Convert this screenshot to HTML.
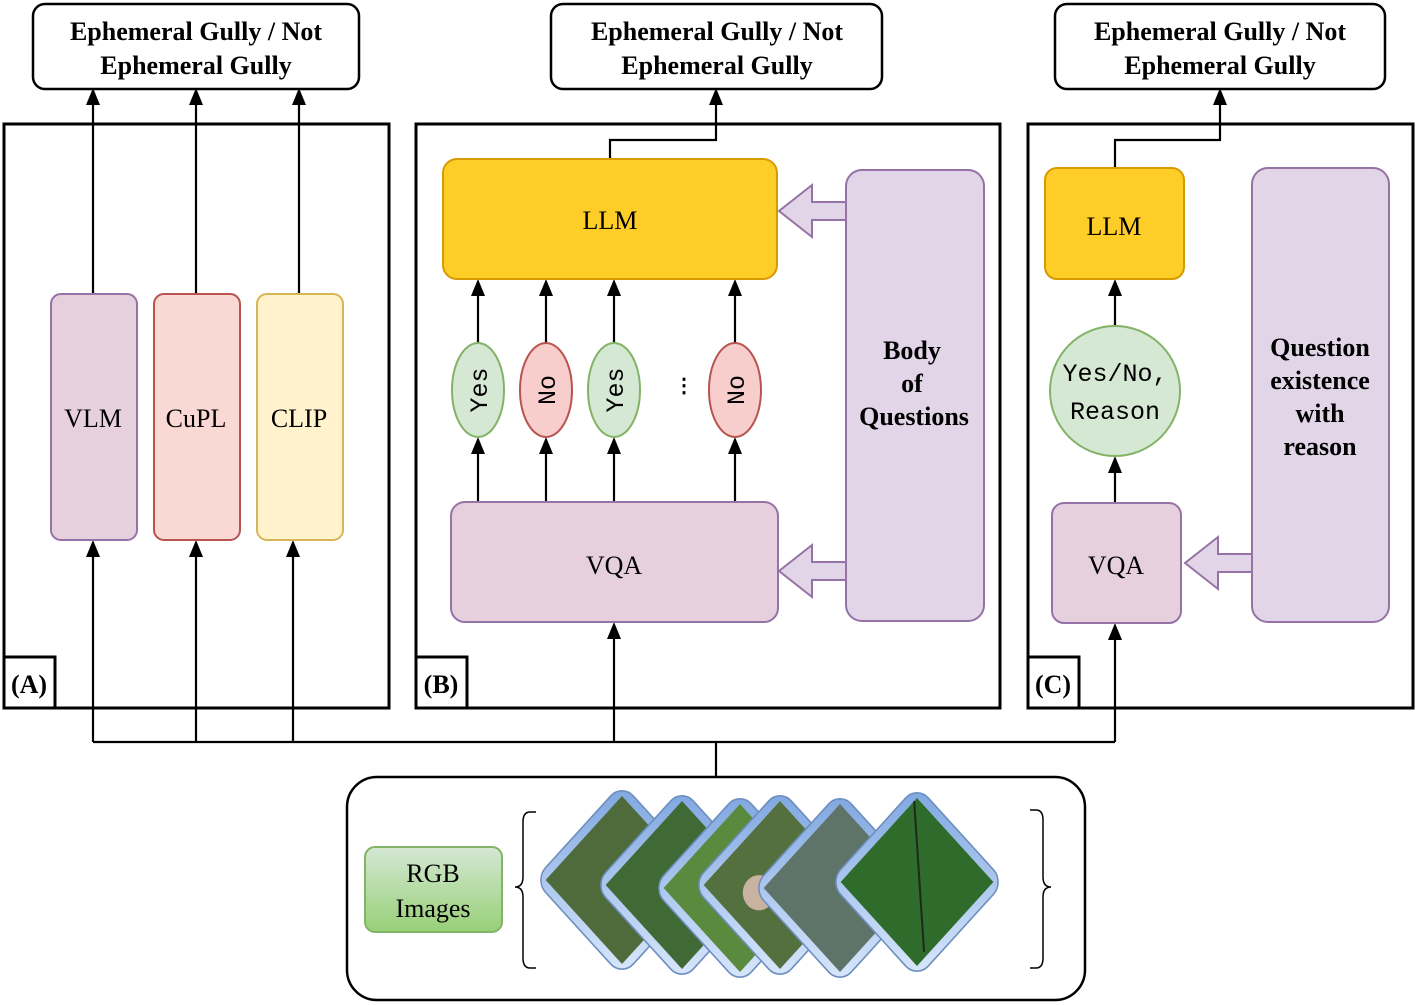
<!DOCTYPE html>
<html><head><meta charset="utf-8"><style>body{margin:0;background:#fff}svg{display:block}</style></head><body>
<svg width="1420" height="1006" viewBox="0 0 1420 1006" xmlns="http://www.w3.org/2000/svg" font-family="Liberation Serif, serif">
<defs>
<linearGradient id="g" x1="0" y1="0" x2="0" y2="1"><stop offset="0" stop-color="#d5e8d4"/><stop offset="1" stop-color="#97d077"/></linearGradient>
<linearGradient id="fr" x1="0" y1="0" x2="1" y2="1"><stop offset="0" stop-color="#7ea6e0"/><stop offset="1" stop-color="#dae8fc"/></linearGradient>
</defs>
<g fill="none" stroke="#000" stroke-width="2.2">
<rect x="33" y="4" width="326" height="85" rx="12" fill="#fff" stroke-width="2.5"/>
<rect x="551" y="4" width="331" height="85" rx="12" fill="#fff" stroke-width="2.5"/>
<rect x="1055" y="4" width="330" height="85" rx="12" fill="#fff" stroke-width="2.5"/>
<rect x="4" y="124" width="385" height="584" stroke-width="3"/>
<rect x="4" y="657" width="51" height="51" stroke-width="3"/>
<rect x="416" y="124" width="584" height="584" stroke-width="3"/>
<rect x="416" y="657" width="51" height="51" stroke-width="3"/>
<rect x="1028" y="124" width="385" height="584" stroke-width="3"/>
<rect x="1028" y="657" width="51" height="51" stroke-width="3"/>
<path d="M93 294V100 M196 294V100 M299 294V100 M93 742V552 M196 742V552 M293 742V552 M93 742H1115 M716 742V776 M614 742V634 M1115 742V635 M610 159V140H716V100 M1115 168V140H1220V100"/>
<path d="M478 343V290 M546 343V290 M614 343V290 M735 343V290 M478 502V448 M546 502V448 M614 502V448 M735 502V448 M1115 326V291 M1115 503V468"/>
<rect x="347" y="777" width="738" height="223" rx="30" fill="#fff" stroke-width="2.5"/>
<path d="M536 812h-6q-7 0-7 10v55q0 10-8 10q8 0 8 10v61q0 10 7 10h6" stroke-width="1.5"/>
<path d="M1030 810h6q7 0 7 10v57q0 10 8 10q-8 0 -8 10v61q0 10-7 10h-6" stroke-width="1.5"/>
</g>
<g fill="#000">
<path d="M93 88l-7 17h14z M196 88l-7 17h14z M299 88l-7 17h14z M716 88l-7 17h14z M1220 88l-7 17h14z"/>
<path d="M93 540l-7 17h14z M196 540l-7 17h14z M293 540l-7 17h14z M614 622l-7 17h14z M1115 623l-7 17h14z"/>
<path d="M478 279l-7 17h14z M546 279l-7 17h14z M614 279l-7 17h14z M735 279l-7 17h14z"/>
<path d="M478 437l-7 17h14z M546 437l-7 17h14z M614 437l-7 17h14z M735 437l-7 17h14z M1115 279l-7 17h14z M1115 456l-7 17h14z"/>
</g>
<rect x="51" y="294" width="86" height="246" rx="10" fill="#e6d0de" stroke="#9673a6" stroke-width="2"/>
<rect x="154" y="294" width="86" height="246" rx="10" fill="#fad9d5" stroke="#b85450" stroke-width="2"/>
<rect x="257" y="294" width="86" height="246" rx="10" fill="#fff2cc" stroke="#d6b656" stroke-width="2"/>
<rect x="443" y="159" width="334" height="120" rx="14" fill="#ffcd28" stroke="#d79b00" stroke-width="2"/>
<rect x="451" y="502" width="327" height="120" rx="14" fill="#e6d0de" stroke="#9673a6" stroke-width="2"/>
<rect x="846" y="170" width="138" height="451" rx="16" fill="#e1d5e7" stroke="#9673a6" stroke-width="2"/>
<path d="M846 202H812V185L779 211L812 237V220H846Z M846 562H812V545L779 571L812 597V580H846Z" fill="#e1d5e7" stroke="#9673a6" stroke-width="2"/>
<ellipse cx="478" cy="390" rx="26" ry="47" fill="#d5e8d4" stroke="#82b366" stroke-width="2"/>
<ellipse cx="546" cy="390" rx="26" ry="47" fill="#f8cecc" stroke="#b85450" stroke-width="2"/>
<ellipse cx="614" cy="390" rx="26" ry="47" fill="#d5e8d4" stroke="#82b366" stroke-width="2"/>
<ellipse cx="735" cy="390" rx="26" ry="47" fill="#f8cecc" stroke="#b85450" stroke-width="2"/>
<rect x="1045" y="168" width="139" height="111" rx="12" fill="#ffcd28" stroke="#d79b00" stroke-width="2"/>
<circle cx="1115" cy="391" r="65" fill="#d5e8d4" stroke="#82b366" stroke-width="2"/>
<rect x="1052" y="503" width="129" height="120" rx="12" fill="#e6d0de" stroke="#9673a6" stroke-width="2"/>
<rect x="1252" y="168" width="137" height="454" rx="16" fill="#e1d5e7" stroke="#9673a6" stroke-width="2"/>
<path d="M1252 554H1218V537L1185 563L1218 589V572H1252Z" fill="#e1d5e7" stroke="#9673a6" stroke-width="2"/>
<rect x="365" y="847" width="137" height="85" rx="10" fill="url(#g)" stroke="#82b366" stroke-width="2"/>
<g stroke="#6c8ebf" stroke-width="1.5">
<g transform="translate(622,880) scale(1,1.1) rotate(45)"><rect x="-62" y="-62" width="124" height="124" rx="16" fill="url(#fr)"/><rect x="-54" y="-54" width="108" height="108" fill="#4f6b3c" stroke="none"/></g>
<g transform="translate(682,885) scale(1,1.1) rotate(45)"><rect x="-62" y="-62" width="124" height="124" rx="16" fill="url(#fr)"/><rect x="-54" y="-54" width="108" height="108" fill="#3f6a35" stroke="none"/></g>
<g transform="translate(740,888) scale(1,1.1) rotate(45)"><rect x="-62" y="-62" width="124" height="124" rx="16" fill="url(#fr)"/><rect x="-54" y="-54" width="108" height="108" fill="#5a8a3e" stroke="none"/></g>
<g transform="translate(780,885) scale(1,1.1) rotate(45)"><rect x="-62" y="-62" width="124" height="124" rx="16" fill="url(#fr)"/><rect x="-54" y="-54" width="108" height="108" fill="#55703f" stroke="none"/><circle cx="-10" cy="20" r="16" fill="#c9b3a0" stroke="none"/></g>
<g transform="translate(840,888) scale(1,1.1) rotate(45)"><rect x="-62" y="-62" width="124" height="124" rx="16" fill="url(#fr)"/><rect x="-54" y="-54" width="108" height="108" fill="#5e7468" stroke="none"/></g>
<g transform="translate(917,882) scale(1,1.1) rotate(45)"><rect x="-62" y="-62" width="124" height="124" rx="16" fill="url(#fr)"/><rect x="-54" y="-54" width="108" height="108" fill="#2f6b2b" stroke="none"/><path d="M-54 -50 L 50 40" stroke="#1e2a15" stroke-width="2"/></g>
</g>
<g text-anchor="middle" font-size="26">
<g font-weight="bold">
<text x="196" y="40">Ephemeral Gully / Not</text><text x="196" y="74">Ephemeral Gully</text>
<text x="717" y="40">Ephemeral Gully / Not</text><text x="717" y="74">Ephemeral Gully</text>
<text x="1220" y="40">Ephemeral Gully / Not</text><text x="1220" y="74">Ephemeral Gully</text>
<text x="29" y="693">(A)</text><text x="441" y="693">(B)</text><text x="1053" y="693">(C)</text>
<text x="912" y="359">Body</text><text x="912" y="392">of</text><text x="914" y="425">Questions</text>
<text x="1320" y="356">Question</text><text x="1320" y="389">existence</text><text x="1320" y="422">with</text><text x="1320" y="455">reason</text>
</g>
<text x="93" y="427">VLM</text><text x="196" y="427">CuPL</text><text x="299" y="427">CLIP</text>
<text x="610" y="229">LLM</text><text x="614" y="574">VQA</text>
<text x="1114" y="235">LLM</text><text x="1116" y="574">VQA</text>
<text x="433" y="882">RGB</text><text x="433" y="917">Images</text>
<g font-family="Liberation Mono, monospace" font-size="25">
<text transform="translate(487,390) rotate(-90)">Yes</text>
<text transform="translate(555,390) rotate(-90)">No</text>
<text transform="translate(623,390) rotate(-90)">Yes</text>
<text transform="translate(744,390) rotate(-90)">No</text>
<text x="1115" y="381">Yes/No,</text><text x="1115" y="419">Reason</text>
</g>
<text x="684" y="392" font-size="20" font-weight="bold">⋮</text>
</g>
</svg>
</body></html>
